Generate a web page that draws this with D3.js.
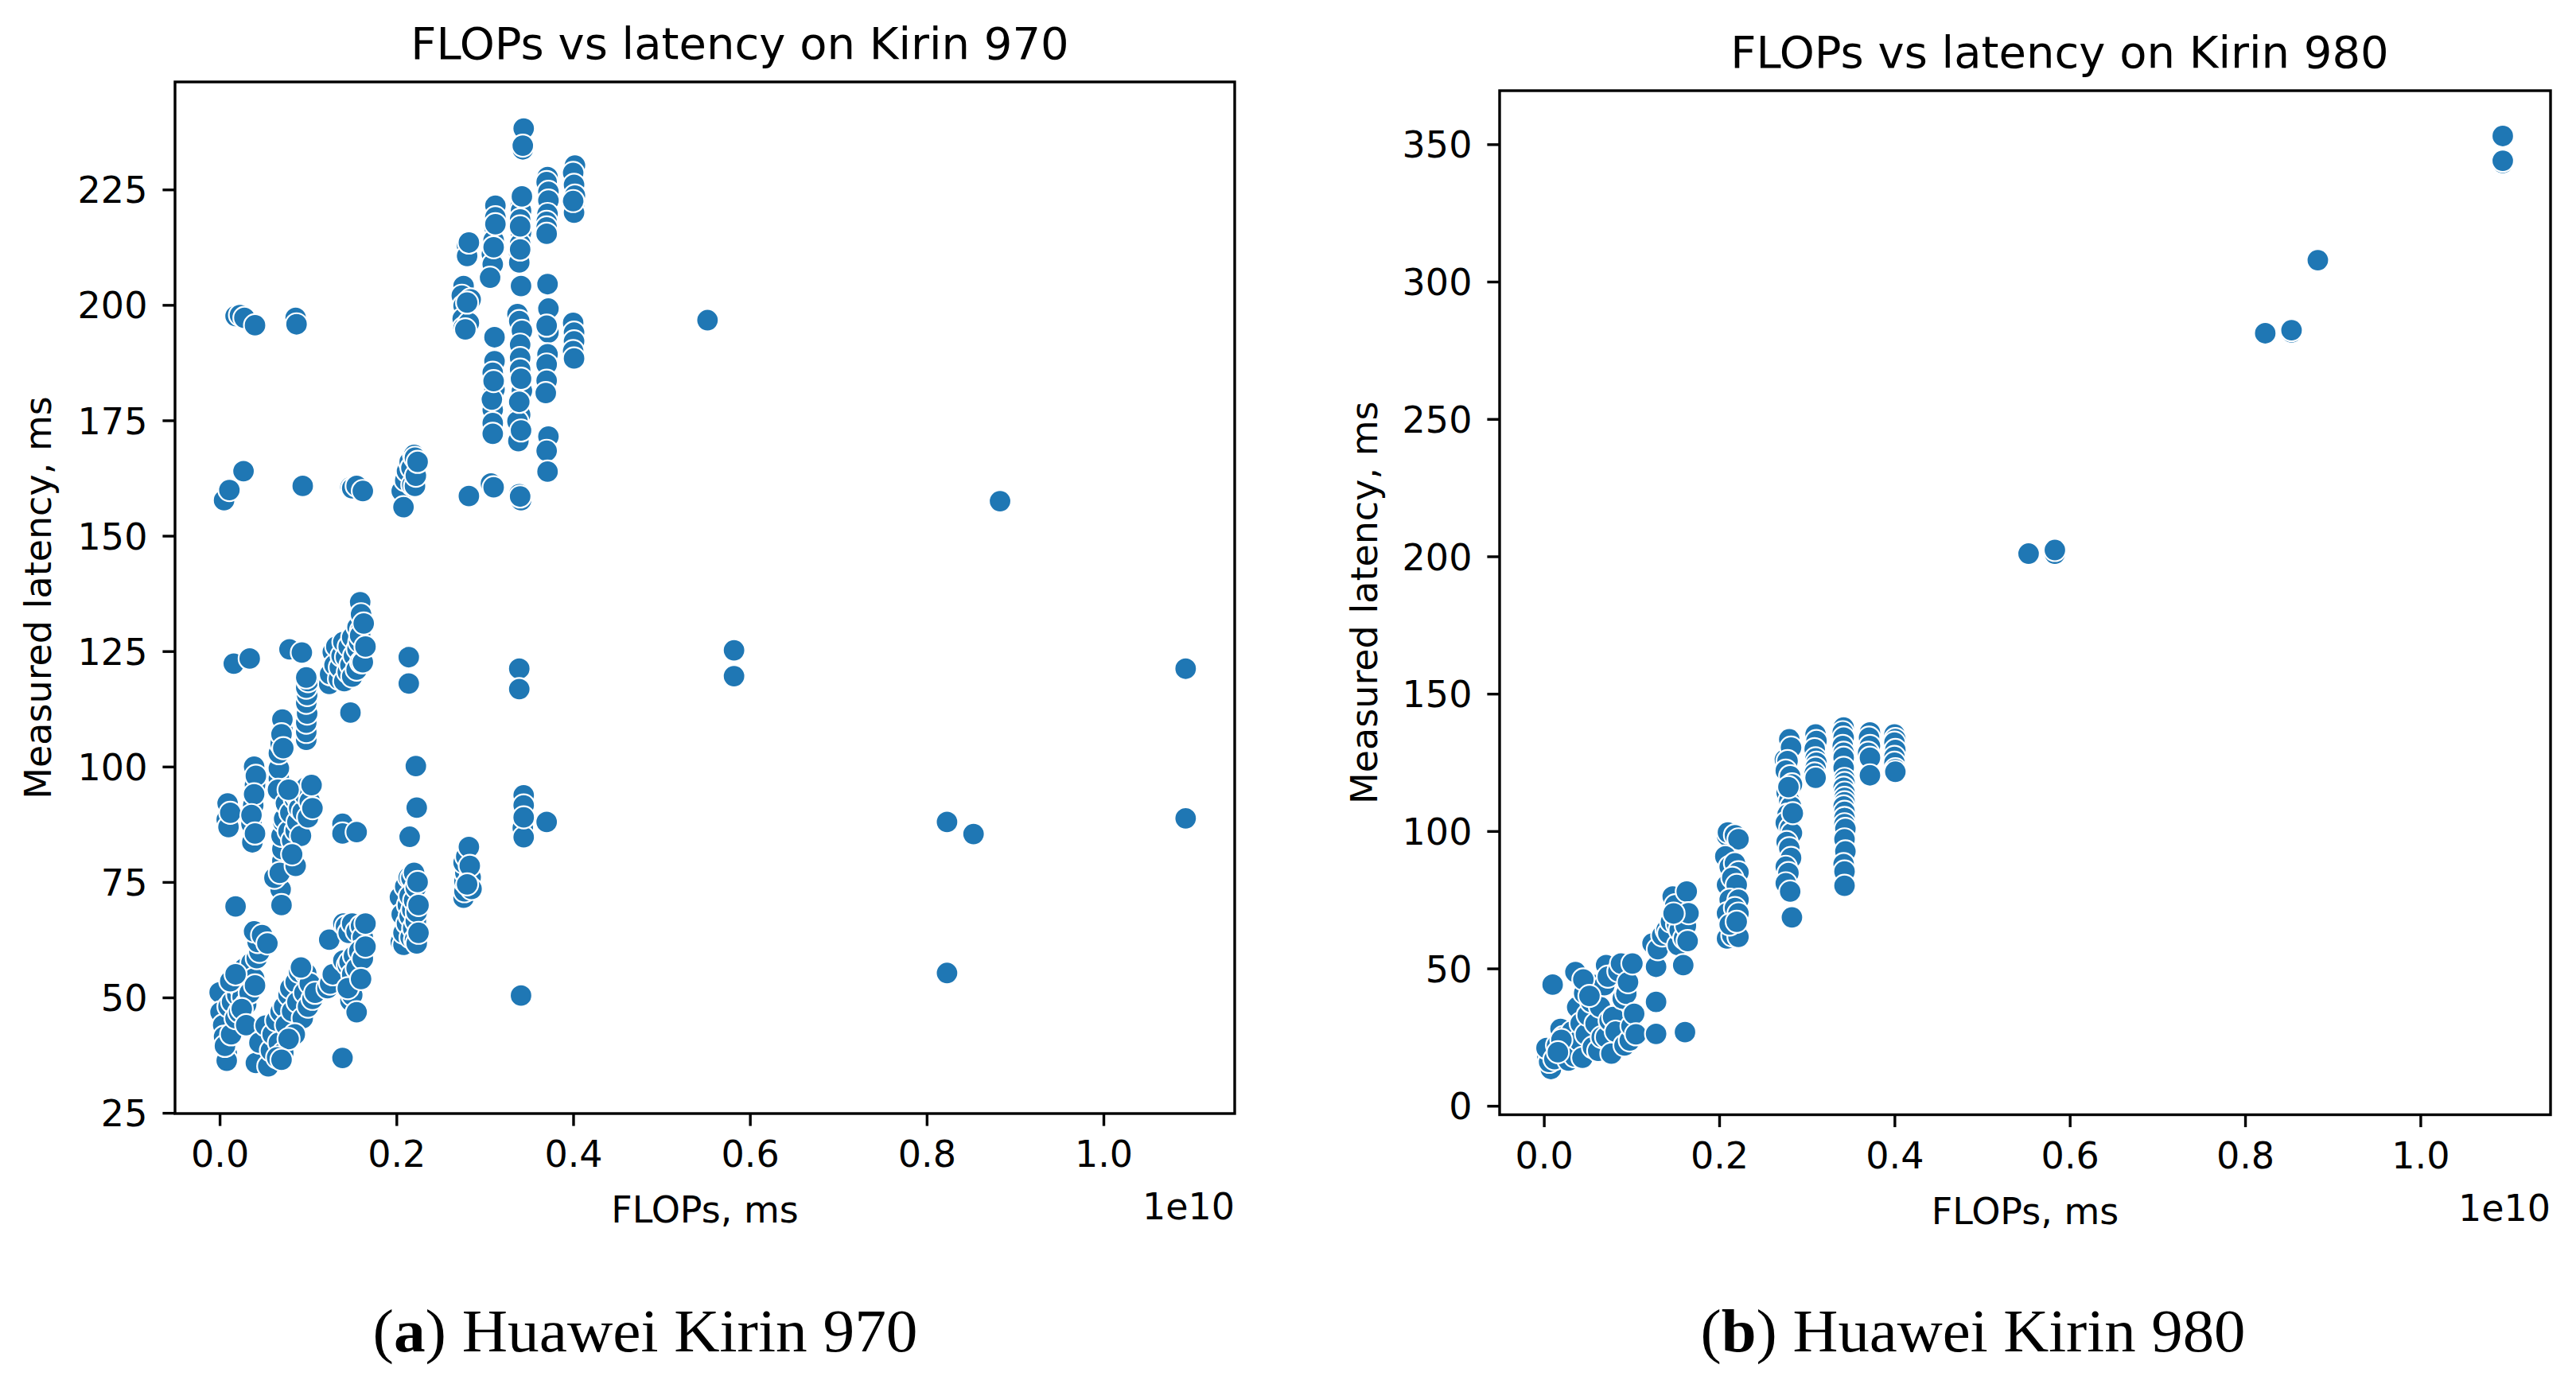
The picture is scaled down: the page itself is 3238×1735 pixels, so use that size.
<!DOCTYPE html>
<html>
<head>
<meta charset="utf-8">
<script src="https://cdn.jsdelivr.net/npm/d3@7"></script>
<style>
    body { margin: 0; background: #ffffff; }
    .text { font-family: "DejaVu Sans", sans-serif; fill: #000000; }
    .caption { font-family: "Liberation Serif", "DejaVu Serif", serif; fill: #000000; }
</style>
</head>
<body>
<div id="chart"></div>
<script>
// Kirin 970: [FLOPs (x1e10), measured latency ms]
const kirin970Points = [
    // low left group
    [0.000, 51.1], [0.001, 46.8], [0.004, 44], [0.005, 41.5], [0.008, 37.9], [0.008, 36.3], [0.006, 39.5],
    [0.010, 48], [0.013, 42.0], [0.014, 49.0], [0.016, 53], [0.018, 45.5], [0.020, 50.5], [0.022, 46.8],
    [0.024, 52], [0.026, 50.1], [0.028, 56.3], [0.030, 48.5], [0.032, 54.5], [0.034, 51], [0.036, 57.5],
    [0.039, 54.1], [0.040, 52.6], [0.042, 58.5], [0.045, 59.9], [0.043, 62], [0.040, 64.5], [0.039, 64.3],
    [0.048, 63.5], [0.054, 61.7], [0.012, 53.5], [0.018, 55], [0.025, 47.5], [0.030, 44],
    [0.041, 35.8], [0.045, 40.2], [0.052, 43.9], [0.055, 35.1], [0.058, 38.5], [0.060, 42], [0.064, 45],
    [0.067, 40.2], [0.069, 46.9], [0.072, 38], [0.073, 48], [0.075, 44], [0.078, 50.5], [0.080, 52],
    [0.082, 47], [0.086, 53.3], [0.088, 49], [0.090, 55.5], [0.094, 45.5], [0.096, 51], [0.098, 55.2],
    [0.100, 48], [0.102, 53], [0.105, 49.7], [0.108, 51], [0.085, 42], [0.078, 41], [0.065, 37],
    [0.070, 36.5], [0.092, 56.5],
    [0.122, 52], [0.125, 53.0], [0.124, 62.5], [0.128, 55], [0.140, 66], [0.143, 65.4], [0.146, 64],
    [0.150, 66], [0.155, 64.3], [0.160, 65.5], [0.162, 63], [0.165, 66], [0.140, 58], [0.145, 57],
    [0.147, 57.7], [0.150, 55], [0.152, 59], [0.155, 56.3], [0.158, 60], [0.162, 58.4], [0.165, 61],
    [0.148, 49.3], [0.150, 50.5], [0.155, 46.8], [0.145, 52], [0.160, 54], [0.139, 36.9],
    [0.204, 71.7], [0.205, 62], [0.206, 68], [0.208, 61.4], [0.208, 64], [0.210, 74], [0.212, 66],
    [0.213, 70], [0.214, 76], [0.215, 67.6], [0.215, 72], [0.216, 63], [0.217, 75.9], [0.218, 69],
    [0.219, 65], [0.220, 77], [0.220, 71], [0.221, 62.5], [0.222, 73.8], [0.222, 66.5], [0.223, 61.7],
    [0.223, 68.5], [0.224, 75], [0.225, 64], [0.225, 70],
    [0.276, 71.6], [0.277, 73], [0.277, 75.2], [0.278, 77], [0.276, 79.2], [0.279, 80.5], [0.282, 82.6],
    [0.284, 76], [0.285, 73.5], [0.283, 78.5], [0.280, 74.5],
    // middle band
    [0.009, 92.0], [0.008, 88.5], [0.010, 86.9], [0.012, 90], [0.036, 87.6], [0.037, 83.6], [0.038, 91.6],
    [0.040, 96.0], [0.039, 100.0], [0.041, 98], [0.039, 94], [0.036, 89.5], [0.040, 85.5], [0.018, 69.7],
    [0.069, 73.4], [0.070, 70.0], [0.062, 75.9], [0.071, 79.6], [0.071, 82.1], [0.068, 77], [0.070, 85],
    [0.072, 88], [0.067, 97.4], [0.067, 99.6], [0.067, 102.9], [0.069, 105], [0.071, 108.0], [0.071, 110.2],
    [0.070, 107], [0.072, 104], [0.066, 95],
    [0.073, 88.7], [0.075, 92], [0.078, 86], [0.080, 90], [0.082, 84], [0.085, 93], [0.086, 86.1],
    [0.086, 78.5], [0.088, 93.4], [0.088, 88], [0.090, 91], [0.092, 85], [0.094, 90.2], [0.096, 94],
    [0.098, 95.5], [0.100, 89], [0.102, 92.5], [0.104, 96], [0.105, 91], [0.078, 95], [0.082, 81],
    [0.098, 105.8], [0.098, 107.5], [0.098, 109.5], [0.099, 111.5], [0.098, 113.8], [0.099, 115.5],
    [0.098, 117.1], [0.100, 118.5], [0.098, 119.3],
    [0.124, 117.9], [0.125, 120], [0.128, 124.8], [0.130, 122], [0.132, 126], [0.135, 119], [0.136, 121.5],
    [0.138, 124], [0.140, 127], [0.141, 118.5], [0.143, 123.7], [0.145, 120.5], [0.146, 126], [0.148, 122],
    [0.150, 128], [0.150, 119.5], [0.152, 124], [0.155, 121], [0.156, 125.5], [0.156, 130.2], [0.158, 127],
    [0.160, 129.5], [0.160, 122.6], [0.162, 122.6], [0.159, 128.4], [0.159, 135.6], [0.160, 133],
    [0.163, 131], [0.165, 126], [0.148, 111.7],
    [0.016, 122.3], [0.034, 123.4], [0.079, 125.4], [0.093, 124.7], [0.214, 123.7], [0.214, 118.0],
    [0.339, 121.2], [0.339, 116.8], [0.582, 125.2], [0.582, 119.6], [1.093, 121.2],
    [0.139, 87.6], [0.139, 85.5], [0.155, 85.8], [0.215, 84.8], [0.222, 100.1], [0.223, 91.1],
    [0.344, 93.8], [0.344, 91.6], [0.343, 86.7], [0.344, 84.7], [0.344, 89], [0.370, 88.0], [0.341, 50.4],
    [0.823, 88.0], [0.853, 85.4], [1.093, 88.8], [0.823, 55.3],
    // 160 ms row
    [0.005, 157.7], [0.011, 159.9], [0.027, 164.0], [0.094, 160.8], [0.148, 160.5], [0.150, 160.3],
    [0.155, 160.8], [0.162, 159.7],
    [0.206, 159.7], [0.208, 156.2], [0.210, 162], [0.212, 164], [0.215, 166], [0.217, 164.7], [0.218, 161],
    [0.220, 167.5], [0.221, 166.9], [0.221, 160.8], [0.222, 163], [0.224, 166],
    [0.282, 158.6], [0.307, 161.3], [0.310, 160.5], [0.339, 159], [0.341, 157.7], [0.340, 158.5], [0.883, 157.5],
    // 198 ms row
    [0.018, 197.6], [0.023, 197.8], [0.028, 197.2], [0.040, 195.6], [0.086, 197.2], [0.087, 195.8], [0.552, 196.7],
    // upper group
    [0.276, 204.1], [0.274, 202], [0.276, 199.8], [0.275, 197], [0.276, 195], [0.282, 196.1], [0.278, 194.7],
    [0.284, 201.2], [0.280, 200.5], [0.280, 212.8], [0.280, 210.6], [0.282, 213.5],
    [0.312, 221.5], [0.312, 219.0], [0.311, 216.8], [0.310, 214], [0.308, 211.0], [0.309, 208.8], [0.306, 205.9],
    [0.312, 217.5], [0.310, 212.5],
    [0.311, 193.0], [0.311, 187.8], [0.309, 185.3], [0.311, 181.7], [0.309, 177.3], [0.309, 174.4], [0.309, 172.1],
    [0.308, 179.5], [0.310, 183.5],
    [0.344, 238.2], [0.343, 233.7], [0.343, 234.5], [0.341, 222.6], [0.340, 221], [0.341, 220.4], [0.340, 218.5],
    [0.341, 216], [0.341, 215.7], [0.340, 213.2], [0.339, 211.0], [0.339, 209.2], [0.340, 212], [0.342, 223.5],
    [0.340, 217],
    [0.341, 204.1], [0.337, 198.0], [0.339, 196.5], [0.342, 194.4], [0.340, 191.4], [0.340, 188.5], [0.340, 186.0],
    [0.342, 181.4], [0.341, 184], [0.340, 176.2], [0.337, 174.8], [0.338, 170.5], [0.339, 179], [0.341, 172.8],
    [0.371, 227.7], [0.370, 226.6], [0.372, 224.5], [0.372, 222.6], [0.371, 219.7], [0.370, 218], [0.370, 216.8],
    [0.370, 215.4], [0.371, 204.5], [0.372, 199.2], [0.372, 194.0], [0.370, 195.5], [0.371, 189.3], [0.370, 187.1],
    [0.370, 183.6], [0.369, 180.9], [0.372, 171.5], [0.370, 168.4], [0.371, 163.9],
    [0.402, 230.2], [0.400, 228.6], [0.401, 226], [0.402, 223.7], [0.401, 221.2], [0.401, 220], [0.400, 222.5],
    [0.400, 196.1], [0.401, 194], [0.401, 192.1], [0.400, 190], [0.401, 188.4]
];

// Kirin 980: [FLOPs (x1e10), measured latency ms]
const kirin980Points = [
    [0.004, 18.3], [0.008, 13.4], [0.006, 16], [0.003, 21], [0.010, 44.1], [0.012, 17], [0.015, 22],
    [0.019, 28], [0.022, 25], [0.025, 19.5], [0.028, 16.5], [0.030, 21], [0.032, 27], [0.035, 18],
    [0.036, 48.7], [0.038, 35.9], [0.040, 23.8], [0.042, 30], [0.044, 17.5], [0.046, 41], [0.048, 26],
    [0.050, 33], [0.054, 37.8], [0.056, 21.3], [0.058, 44], [0.059, 29.9], [0.062, 20], [0.064, 36],
    [0.066, 25], [0.069, 43.9], [0.071, 51.2], [0.071, 25], [0.073, 47], [0.075, 31], [0.077, 19],
    [0.079, 32.3], [0.082, 27], [0.085, 49], [0.088, 51.8], [0.090, 39], [0.092, 22], [0.094, 40.8],
    [0.096, 45], [0.098, 23.8], [0.100, 29], [0.101, 51.8], [0.103, 33.5], [0.105, 26], [0.045, 46],
    [0.052, 40], [0.020, 24], [0.016, 19.5],
    [0.128, 37.8], [0.128, 26.2], [0.161, 26.8],
    [0.124, 59.1], [0.128, 50.6], [0.130, 57], [0.135, 62], [0.140, 64], [0.142, 62.8], [0.145, 67],
    [0.147, 76.2], [0.150, 73], [0.152, 66], [0.153, 58.5], [0.155, 64], [0.157, 69], [0.159, 51.2],
    [0.160, 61], [0.162, 65.5], [0.163, 78], [0.165, 70.1], [0.164, 60], [0.148, 70],
    [0.209, 98.3], [0.210, 99.5], [0.218, 98.5], [0.222, 97], [0.207, 90.8], [0.212, 87], [0.218, 88.3],
    [0.222, 85], [0.209, 80.4], [0.215, 83], [0.220, 80.4], [0.212, 75], [0.222, 75], [0.209, 70.1],
    [0.218, 72], [0.222, 70], [0.209, 60.9], [0.215, 62], [0.222, 61.5], [0.212, 66], [0.220, 67],
    [0.275, 126], [0.280, 133.4], [0.282, 130.4], [0.278, 125.5], [0.276, 122], [0.281, 120], [0.283, 117],
    [0.277, 114], [0.280, 111], [0.282, 109], [0.278, 106], [0.276, 103], [0.281, 101], [0.283, 99.3],
    [0.277, 96], [0.280, 93.8], [0.282, 90.2], [0.276, 87], [0.279, 84.7], [0.276, 81], [0.281, 78],
    [0.283, 68.6], [0.284, 106.5], [0.279, 116],
    [0.310, 135.2], [0.311, 132.8], [0.309, 129.8], [0.310, 126.5], [0.311, 124.9], [0.310, 123],
    [0.309, 121], [0.310, 119.4],
    [0.342, 137.7], [0.341, 136], [0.342, 134], [0.341, 131], [0.342, 128.5], [0.342, 126.7], [0.342, 123],
    [0.343, 119], [0.343, 117.5], [0.342, 115.8], [0.343, 114], [0.343, 112.1], [0.343, 110.5], [0.342, 109],
    [0.343, 107], [0.343, 104.8], [0.343, 102.5], [0.344, 100.8], [0.343, 97], [0.344, 92.6], [0.342, 88],
    [0.343, 85.3], [0.343, 80.1],
    [0.372, 135.9], [0.371, 134], [0.372, 131], [0.370, 128.5], [0.372, 126.7], [0.372, 120.3],
    [0.400, 135.2], [0.401, 133.5], [0.400, 132.2], [0.401, 129.5], [0.400, 127], [0.400, 124.9],
    [0.401, 122.5], [0.401, 121.6],
    [0.553, 201.0], [0.583, 201.0], [0.583, 202.3], [0.823, 281.2], [0.853, 281.5], [0.853, 282.3],
    [0.883, 307.8], [1.094, 353.0], [1.094, 343.2], [1.094, 344]
];

// Tick labels
const xTicks = [0.0, 0.2, 0.4, 0.6, 0.8, 1.0];
const yTicks970 = [25, 50, 75, 100, 125, 150, 175, 200, 225];
const yTicks980 = [0, 50, 100, 150, 200, 250, 300, 350];

// Texts
const titles = ["FLOPs vs latency on Kirin 970", "FLOPs vs latency on Kirin 980"];
const captions = [["a", " Huawei Kirin 970"], ["b", " Huawei Kirin 980"]];

const width = 3238;
const height = 1735;
const pointColor = "#1f77b4";

const svg = d3.select("#chart")
    .append("svg")
    .attr("width", width)
    .attr("height", height);

svg.append("rect")
    .attr("width", width)
    .attr("height", height)
    .attr("fill", "#ffffff");

// Draw one panel
function drawPanel(opts) {
    const { points, yTicks, xDomain, yDomain, box, title, caption } = opts;

    const x = d3.scaleLinear().domain(xDomain).range([box.left, box.right]);
    const y = d3.scaleLinear().domain(yDomain).range([box.bottom, box.top]);

    const g = svg.append("g");

    // Points
    g.append("g")
        .selectAll("circle")
        .data(points)
        .enter().append("circle")
        .attr("cx", d => x(d[0]))
        .attr("cy", d => y(d[1]))
        .attr("r", 14)
        .attr("fill", pointColor)
        .attr("stroke", "#ffffff")
        .attr("stroke-width", 2.2);

    // Axes
    const xAxis = g.append("g")
        .attr("transform", `translate(0, ${box.bottom})`)
        .call(d3.axisBottom(x)
            .tickValues(xTicks)
            .tickFormat(d3.format(".1f"))
            .tickSize(15.6)
            .tickSizeOuter(0)
            .tickPadding(19));

    const yAxis = g.append("g")
        .attr("transform", `translate(${box.left}, 0)`)
        .call(d3.axisLeft(y)
            .tickValues(yTicks)
            .tickFormat(d3.format("d"))
            .tickSize(15.6)
            .tickSizeOuter(0)
            .tickPadding(19));

    [xAxis, yAxis].forEach(axis => {
        axis.select(".domain").remove();
        axis.selectAll(".tick line").attr("stroke", "#000").attr("stroke-width", 3.4);
        axis.selectAll(".tick text")
            .attr("class", "text")
            .style("font-size", "46px")
            .attr("fill", "#000");
    });
    xAxis.selectAll(".tick text").attr("dy", "0.71em");
    yAxis.selectAll(".tick text").attr("dy", "0.36em");

    // Frame
    g.append("rect")
        .attr("x", box.left)
        .attr("y", box.top)
        .attr("width", box.right - box.left)
        .attr("height", box.bottom - box.top)
        .attr("fill", "none")
        .attr("stroke", "#000")
        .attr("stroke-width", 3.4);

    // Title
    g.append("text")
        .attr("class", "text")
        .attr("x", box.titleX)
        .attr("y", box.titleY)
        .attr("text-anchor", "middle")
        .style("font-size", "56px")
        .text(title);

    // Axis labels
    g.append("text")
        .attr("class", "text")
        .attr("x", (box.left + box.right) / 2)
        .attr("y", box.bottom + 137)
        .attr("text-anchor", "middle")
        .style("font-size", "46px")
        .text("FLOPs, ms");

    g.append("text")
        .attr("class", "text")
        .attr("x", box.right)
        .attr("y", box.bottom + 133)
        .attr("text-anchor", "end")
        .style("font-size", "46px")
        .text("1e10");

    g.append("text")
        .attr("class", "text")
        .attr("transform", `translate(${box.yLabelX}, ${(box.top + box.bottom) / 2}) rotate(-90)`)
        .attr("text-anchor", "middle")
        .attr("dy", "0.35em")
        .style("font-size", "46px")
        .text("Measured latency, ms");

    // Caption below the panel
    const cap = g.append("text")
        .attr("class", "caption")
        .attr("x", box.captionX)
        .attr("y", 1699)
        .attr("text-anchor", "middle")
        .attr("textLength", 685)
        .attr("lengthAdjust", "spacingAndGlyphs")
        .style("font-size", "76px");
    cap.append("tspan").text("(");
    cap.append("tspan").attr("font-weight", "bold").text(caption[0]);
    cap.append("tspan").text(")" + caption[1]);
}

drawPanel({
    points: kirin970Points,
    yTicks: yTicks970,
    xDomain: [-0.0505, 1.1485],
    yDomain: [24.85, 248.3],
    box: { left: 220, right: 1552, top: 103, bottom: 1400,
        titleX: 930, titleY: 74, yLabelX: 48, captionX: 811 },
    title: titles[0],
    caption: captions[0]
});

drawPanel({
    points: kirin980Points,
    yTicks: yTicks980,
    xDomain: [-0.0505, 1.1485],
    yDomain: [-3.25, 369.5],
    box: { left: 1885, right: 3206, top: 114, bottom: 1401.5,
        titleX: 2589, titleY: 85, yLabelX: 1715, captionX: 2480 },
    title: titles[1],
    caption: captions[1]
});
</script>
</body>
</html>
